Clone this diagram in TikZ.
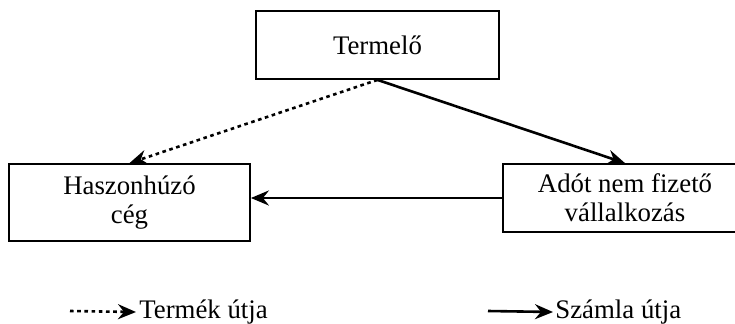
\documentclass[tikz,border=0pt]{standalone}
\usepackage{fontspec}
\setmainfont{Liberation Serif}
\usetikzlibrary{arrows.meta}

\begin{document}
\begin{tikzpicture}[x=0.5pt,y=-0.5pt]
%% Styles
\tikzset{box/.style={draw,line width=0.9pt,align=center,inner sep=0pt,
font=\fontsize{13.4}{14.6}\selectfont}}
\tikzset{flow/.style={line width=1.3pt,-{Stealth[length=9pt,width=7.5pt,inset=3pt]}}}
\tikzset{goods/.style={flow,dash pattern=on 1.8pt off 1.8pt}}
\tikzset{legtext/.style={anchor=west,inner sep=0pt,font=\fontsize{13.4}{14.6}\selectfont}}
\useasboundingbox (0,0) rectangle (735,323);

%% Boxes
\node[box,minimum width=121.5pt,minimum height=34pt] (termelo) at (377.5,45) {Termelő};
\node[box,minimum width=120.5pt,minimum height=38.5pt] (haszon) at (129.5,202.5) {Haszonhúzó\\cég};
\node[box,minimum width=122pt,minimum height=34pt] (adot) at (625,198) {Adót nem fizető\\vállalkozás};

%% Flows
\path[draw,goods] (termelo.south) -- (haszon.north);
\path[draw,flow] (termelo.south) -- (adot.north);
\path[draw,flow] (adot.west) -- (adot.west -| haszon.east);

%% Legend
\coordinate (legdot) at (70,311);
\coordinate (legline) at (488,311);
\node[legtext] (legtermek) at (139,312) {Termék útja};
\node[legtext] (legszamla) at (555,312) {Számla útja};
\path[draw,goods] (legdot) -- (legtermek.west -| 136,0);
\path[draw,flow] (legline) -- (legszamla.west -| 553,0);
\end{tikzpicture}
\end{document}
